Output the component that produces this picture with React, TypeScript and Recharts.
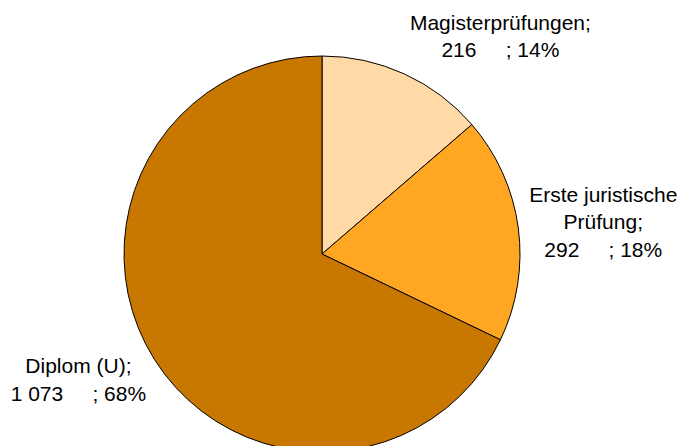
import { PieChart, Pie, Cell } from 'recharts'

const categories = ['Magisterprüfungen', 'Erste juristische Prüfung', 'Diplom (U)']
const values = [216, 292, 1073]
const colors = ['#FFDAA6', '#FFA623', '#C87700']

// label lines (each entry one text line, the last line holds value and percent)
const labelLines = [['Magisterprüfungen;'], ['Erste juristische', 'Prüfung;'], ['Diplom (U);']]
// offset of the first baseline from the slice's outer mid point
const labelOffsets = [
   { dx: 96, dy: -44 },
   { dx: 85, dy: -26 },
   { dx: -76, dy: 14 },
]

const data = categories.map((name, i) => ({ name, value: values[i] }))

const RADIAN = Math.PI / 180
const LINE_H = 27.5

const fmt = (n: number) => String(n).replace(/\B(?=(\d{3})+(?!\d))/g, ' ')

const renderLabel = (props: any) => {
   const { cx, cy, midAngle, outerRadius, index, value, percent } = props
   const px = cx + outerRadius * Math.cos(-midAngle * RADIAN)
   const py = cy + outerRadius * Math.sin(-midAngle * RADIAN)
   const x = px + labelOffsets[index].dx
   const y = py + labelOffsets[index].dy
   const lines = [...labelLines[index], `${fmt(value)}     ; ${Math.round(percent * 100)}%`]
   return (
      <text
         x={x}
         y={y}
         textAnchor='middle'
         fill='#000'
         fontSize={21}
         fontFamily='"Liberation Sans", Arial, sans-serif'
         style={{ whiteSpace: 'pre' }}
      >
         {lines.map((l, i) => (
            <tspan key={i} x={x} y={y + i * LINE_H}>{l}</tspan>
         ))}
      </text>
   )
}

export default function App() {
   return (
      <div style={{ position: 'fixed', left: 0, top: 0, background: '#fff' }}>
         <PieChart width={680} height={446} margin={{ top: 0, right: 0, bottom: 0, left: 0 }}>
            <Pie
               data={data}
               dataKey='value'
               nameKey='name'
               cx={322}
               cy={254}
               outerRadius={198}
               startAngle={90}
               endAngle={-270}
               stroke='#000'
               strokeWidth={1}
               label={renderLabel}
               labelLine={false}
               isAnimationActive={false}
            >
               {data.map((d, i) => (
                  <Cell key={d.name} fill={colors[i]} />
               ))}
            </Pie>
         </PieChart>
      </div>
   )
}
